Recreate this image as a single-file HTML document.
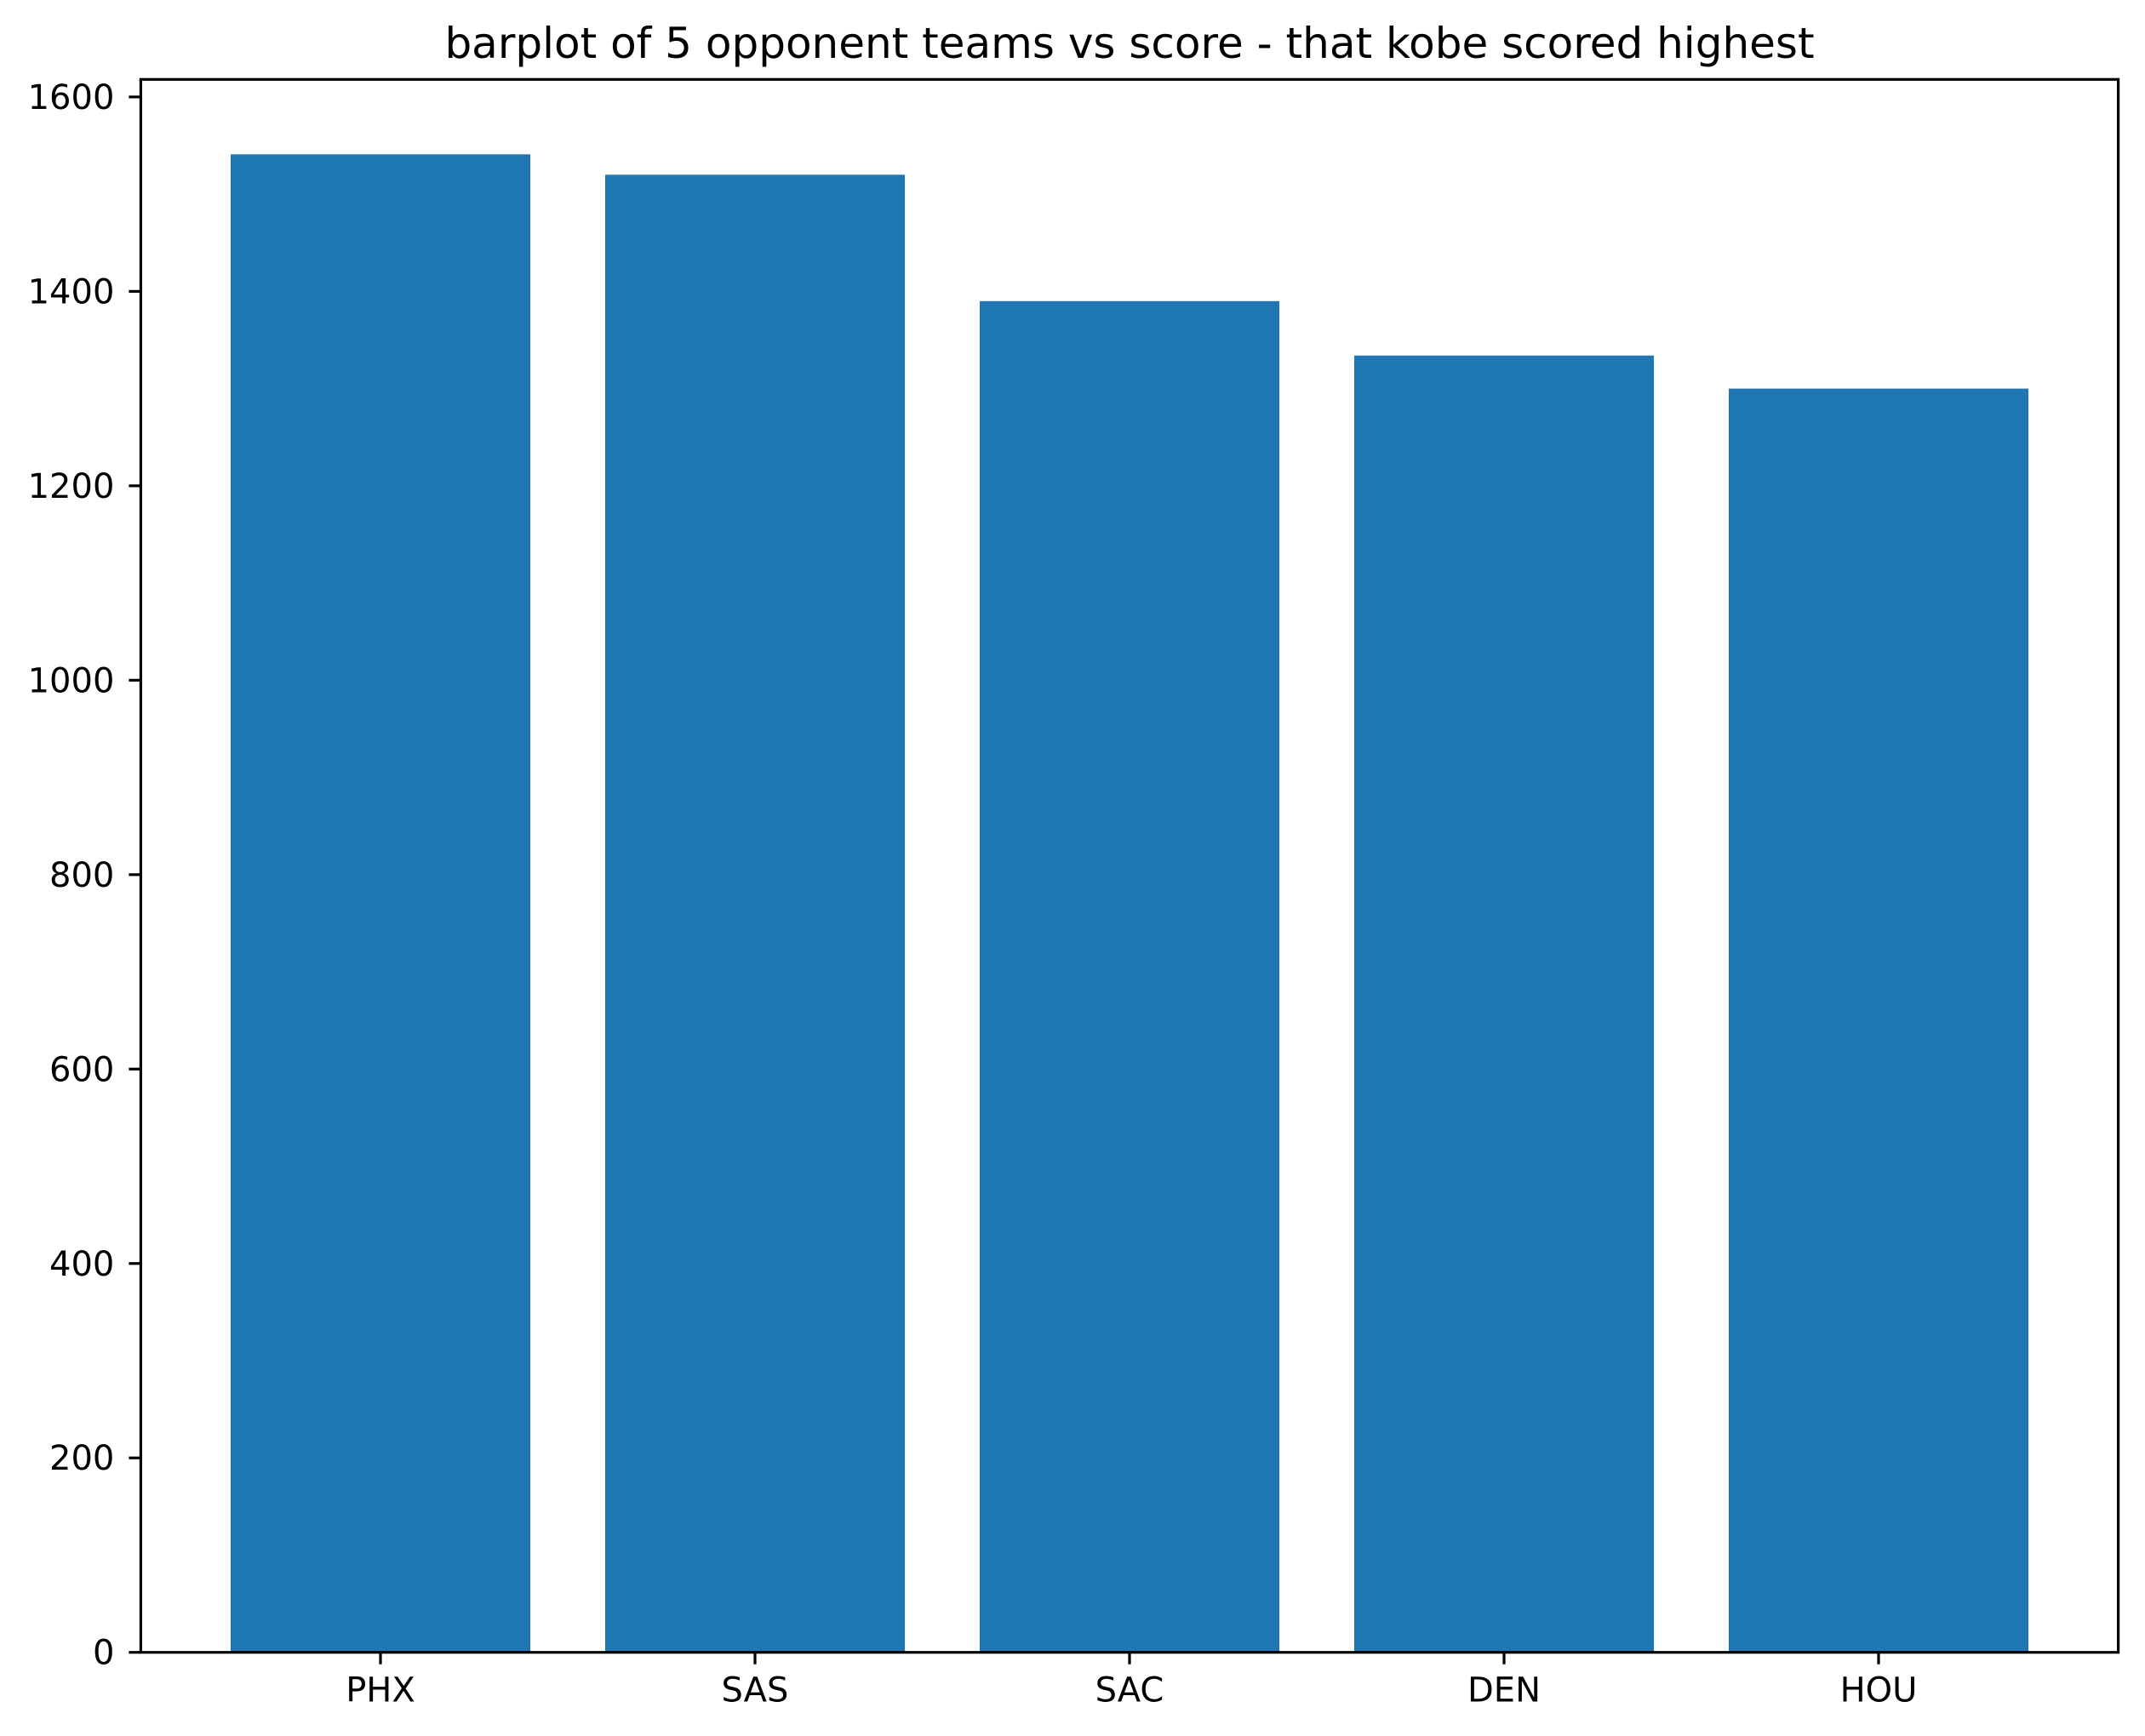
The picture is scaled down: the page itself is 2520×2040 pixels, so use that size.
<!DOCTYPE html>
<html><head><meta charset="utf-8"><style>
html,body{margin:0;padding:0;background:#fff;}
svg{display:block;font-family:"DejaVu Sans","Liberation Sans",sans-serif;}
</style></head><body>
<svg id="chart" width="2520" height="2040" viewBox="0 0 2520 2040">
<text x="1327" y="68" font-size="50" text-anchor="middle" fill="#000">barplot of 5 opponent teams vs score - that kobe scored highest</text>
<g id="bars"></g>
<g id="yaxis"></g>
<g id="xaxis"></g>
<rect x="165.4" y="93.3" width="2323.2" height="1848.4" fill="none" stroke="#000" stroke-width="3.2"/>
</svg>
<script>
const categories = ["PHX", "SAS", "SAC", "DEN", "HOU"];
const scores = [1541, 1520, 1390, 1334, 1300];
const yTicks = [0, 200, 400, 600, 800, 1000, 1200, 1400, 1600];

const NS = "http://www.w3.org/2000/svg";
const plotLeft = 165.4, plotRight = 2488.6, plotTop = 93.3, plotBottom = 1941.7;
const maxV = Math.max(...scores);
const yMax = maxV * 1.05;
const xMin = -0.64, xMax = categories.length - 1 + 0.64;
function xScale(i){ return plotLeft + (i - xMin) / (xMax - xMin) * (plotRight - plotLeft); }
function yScale(v){ return plotBottom - v / yMax * (plotBottom - plotTop); }
const unit = (plotRight - plotLeft) / (xMax - xMin);
const barW = 0.8 * unit;

const gb = document.getElementById('bars');
scores.forEach((v, i) => {
  const r = document.createElementNS(NS, 'rect');
  r.setAttribute('x', xScale(i) - barW / 2);
  r.setAttribute('y', yScale(v));
  r.setAttribute('width', barW);
  r.setAttribute('height', plotBottom - yScale(v));
  r.setAttribute('fill', '#1f77b4');
  
  
  gb.appendChild(r);
});

const gy = document.getElementById('yaxis');
yTicks.forEach(t => {
  const y = yScale(t);
  const l = document.createElementNS(NS, 'line');
  l.setAttribute('x1', plotLeft - 14); l.setAttribute('x2', plotLeft);
  l.setAttribute('y1', y); l.setAttribute('y2', y);
  l.setAttribute('stroke', '#000'); l.setAttribute('stroke-width', '3.2');
  
  
  gy.appendChild(l);
  const tx = document.createElementNS(NS, 'text');
  tx.setAttribute('x', plotLeft - 31); tx.setAttribute('y', y + 14);
  tx.setAttribute('font-size', '40'); tx.setAttribute('text-anchor', 'end');
  tx.textContent = t;
  
  
  gy.appendChild(tx);
});

const gx = document.getElementById('xaxis');
categories.forEach((c, i) => {
  const x = xScale(i);
  const l = document.createElementNS(NS, 'line');
  l.setAttribute('x1', x); l.setAttribute('x2', x);
  l.setAttribute('y1', plotBottom); l.setAttribute('y2', plotBottom + 14);
  l.setAttribute('stroke', '#000'); l.setAttribute('stroke-width', '3.2');
  
  
  gx.appendChild(l);
  const tx = document.createElementNS(NS, 'text');
  tx.setAttribute('x', x); tx.setAttribute('y', plotBottom + 58);
  tx.setAttribute('font-size', '40'); tx.setAttribute('text-anchor', 'middle');
  tx.textContent = c;
  
  
  gx.appendChild(tx);
});
</script>
</body></html>
